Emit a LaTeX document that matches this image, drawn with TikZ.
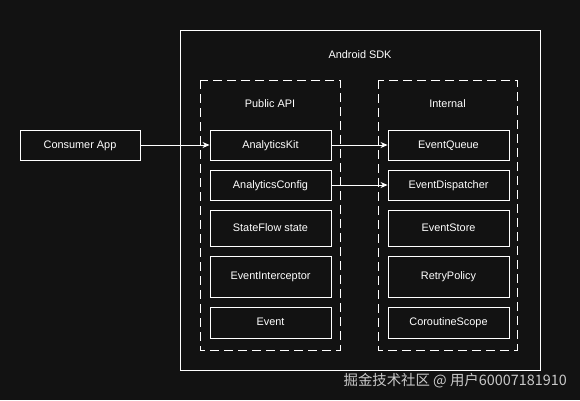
\documentclass[tikz,border=0pt]{standalone}
\usepackage{fontspec}
\setmainfont{Liberation Sans}
\newfontfamily\cjk{Noto Sans CJK SC}
\usetikzlibrary{arrows.meta}
\definecolor{bg}{HTML}{121212}
\definecolor{wm}{HTML}{C8C8C8}
\begin{document}
\begin{tikzpicture}[x=1pt,y=-1pt,
  every node/.style={text=white,font=\fontsize{10.9}{12}\selectfont},
  item/.style={draw=white,line width=0.9pt,fill=bg,minimum width=121pt,inner sep=0pt,text height=8pt,text depth=2pt},
  group/.style={draw=white,line width=0.9pt,dash pattern=on 9pt off 5pt},
  conn/.style={draw=white,line width=0.9pt,-{Stealth[length=7pt,width=6pt]}}]
\useasboundingbox[fill=bg] (0,0) rectangle (580,400);
% outer
\draw[white,line width=0.9pt] (180,30) rectangle (540,370);
\node (sdk) at (360,55) {Android SDK};
\draw[group] (200,80) rectangle (340,350);
\draw[group] (378,80) rectangle (517,350);
\node (pub) at (270,104) {Public API};
\node (int) at (447.5,104) {Internal};
% consumer
\node[item,minimum width=120pt,minimum height=30pt] (app) at (80,145) {Consumer App};
% left
\node[item,minimum height=30pt] (kit) at (270.5,145) {AnalyticsKit};
\node[item,minimum height=30pt] (cfg) at (270.5,185) {AnalyticsConfig};
\node[item,minimum height=36pt] (sf) at (270.5,228) {StateFlow state};
\node[item,minimum height=41pt] (ei) at (270.5,276.5) {EventInterceptor};
\node[item,minimum height=31pt] (ev) at (270.5,322.5) {Event};
% right
\node[item,minimum height=30pt] (eq) at (448.5,145) {EventQueue};
\node[item,minimum height=30pt] (ed) at (448.5,185) {EventDispatcher};
\node[item,minimum height=36pt] (es) at (448.5,228) {EventStore};
\node[item,minimum height=41pt] (rp) at (448.5,276.5) {RetryPolicy};
\node[item,minimum height=31pt] (cs) at (448.5,322.5) {CoroutineScope};
% connectors
\draw[conn] (app) -- (kit);
\draw[conn] (kit) -- (eq);
\draw[conn] (cfg) -- (ed);
% watermark
\node[anchor=east,text=wm,font=\cjk\fontsize{14.4}{15}\selectfont,inner sep=0pt] (wmk) at (567,381) {掘金技术社区 @ 用户60007181910};
\end{tikzpicture}
\end{document}
